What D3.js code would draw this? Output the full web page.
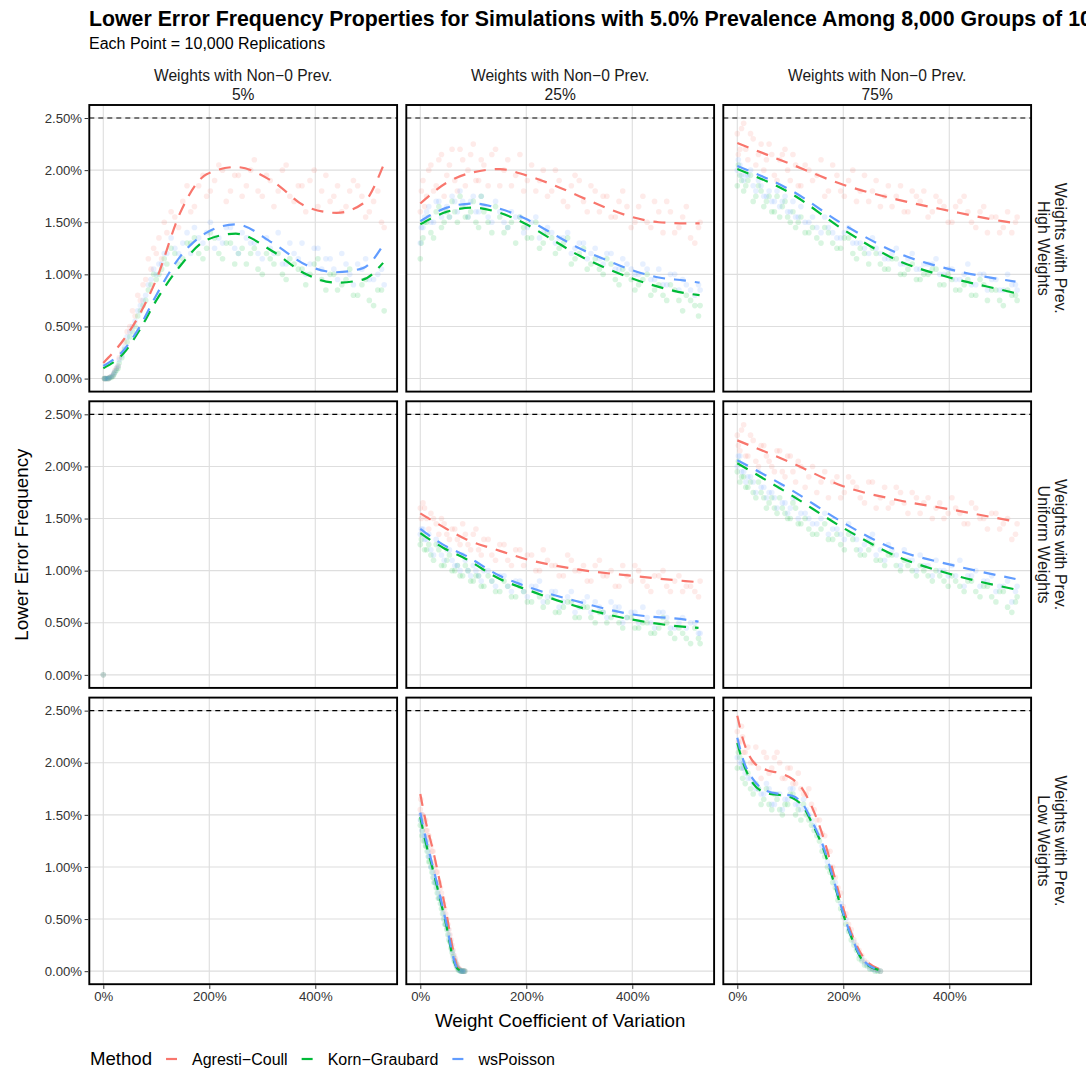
<!DOCTYPE html>
<html>
<head>
<meta charset="utf-8">
<script src="https://cdn.jsdelivr.net/npm/d3@7"></script>
<style>
body { margin: 0; background: #fff; }
text { font-family: "Liberation Sans", Arial, Helvetica, sans-serif; }
</style>
</head>
<body>
<svg id="chart" width="1086" height="1071"></svg>
<script>
// ---- labels ----
var METHODS = ["Agresti\u2212Coull", "Korn\u2212Graubard", "wsPoisson"];
var COLORS = ["#F8766D", "#00BA38", "#619CFF"];
var COL_LABELS = ["5%", "25%", "75%"];
var ROW_LABELS = ["High Weights", "Uniform Weights", "Low Weights"];
var Y_TICKS = [0, 0.5, 1, 1.5, 2, 2.5];       // percent
var X_TICKS = [0, 2, 4];                      // CV as fraction
var NOMINAL = 2.5;

// ---- points (x = weight CV, y = lower error freq in %) ----
var hi5_cv = [0.02,0.05,0.1,0.15,0.2,0.25,0.3,0.4,0.5,0.6,0.7,0.8,0.9,1.0,1.1,1.2,1.35,1.5,1.65,1.8,1.95,2.1,2.25,2.4,2.55,2.7,2.85,3.0,3.15,3.3,3.45,3.6,3.75,3.9,4.05,4.2,4.35,4.5,4.65,4.8,4.95,5.1,5.25];
var hi5_ac = [0,0,0,0.02,0.05,0.1,0.2,0.35,0.5,0.6,0.75,0.95,1.05,1.2,1.15,1.4,1.55,1.7,1.6,1.85,1.75,1.9,2.0,1.8,1.95,1.85,2.1,1.75,1.9,1.8,2.05,1.7,1.85,1.9,1.65,1.95,1.75,1.6,1.8,1.85,1.55,1.7,1.5];
var hi5_kg = [0,0,0,0.01,0.04,0.08,0.15,0.28,0.4,0.5,0.65,0.75,0.9,0.95,1.05,1.1,1.2,1.15,1.3,1.2,1.25,1.35,1.15,1.3,1.2,1.1,1.25,1.0,1.15,1.2,0.95,1.1,1.05,1.0,1.15,0.85,1.0,0.9,1.05,0.8,0.95,0.7,0.85];
var hi5_ws = [0,0,0,0.02,0.05,0.1,0.18,0.3,0.45,0.55,0.7,0.8,0.95,1.0,1.1,1.2,1.25,1.3,1.2,1.35,1.4,1.25,1.3,1.45,1.2,1.35,1.3,1.15,1.25,1.4,1.1,1.2,1.3,1.1,1.25,1.15,1.05,1.2,1.0,1.1,1.15,0.95,1.05];
var hi5_cv2 = [0.03,0.08,0.12,0.18,0.22,0.28,0.35,0.45,0.55,0.65,0.75,0.85,0.95,1.05,1.15,1.28,1.42,1.58,1.72,1.88,2.02,2.18,2.32,2.48,2.62,2.78,2.92,3.08,3.22,3.38,3.52,3.68,3.82,3.98,4.12,4.28,4.42,4.58,4.72,4.88,5.02,5.18,5.3];
var hi5_ac2 = [0,0,0.01,0.03,0.08,0.12,0.25,0.45,0.65,0.8,0.9,1.15,1.25,1.35,1.5,1.6,1.45,1.85,1.65,1.95,1.8,2.05,1.7,1.95,1.75,2.0,1.8,1.95,1.65,2.0,1.75,1.85,1.6,2.0,1.8,1.7,1.85,1.65,1.9,1.75,1.6,1.8,1.45];
var hi5_kg2 = [0,0,0.01,0.02,0.06,0.1,0.2,0.35,0.45,0.6,0.7,0.85,1.0,1.0,1.15,1.25,1.1,1.3,1.35,1.15,1.4,1.2,1.3,1.1,1.25,1.2,1.05,1.2,1.1,1.0,1.15,1.05,0.9,1.1,0.95,1.0,0.85,0.95,0.8,0.9,0.75,0.85,0.65];
var hi5_ws2 = [0,0,0.01,0.03,0.07,0.12,0.22,0.4,0.5,0.65,0.75,0.9,1.05,1.1,1.2,1.35,1.2,1.4,1.45,1.3,1.5,1.35,1.45,1.25,1.4,1.3,1.2,1.35,1.2,1.1,1.3,1.15,1.0,1.25,1.05,1.15,0.95,1.1,0.9,1.05,0.95,1.0,0.9];

var cv41 = [0.0,0.05,0.12,0.2,0.3,0.4,0.5,0.6,0.7,0.8,0.9,1.0,1.1,1.2,1.35,1.5,1.65,1.8,1.95,2.1,2.25,2.4,2.55,2.7,2.85,3.0,3.15,3.3,3.45,3.6,3.75,3.9,4.05,4.2,4.35,4.5,4.65,4.8,4.95,5.1,5.25];
var cv41b = [0.02,0.08,0.16,0.25,0.35,0.45,0.55,0.65,0.75,0.85,0.95,1.05,1.15,1.28,1.42,1.58,1.72,1.88,2.02,2.18,2.32,2.48,2.62,2.78,2.92,3.08,3.22,3.38,3.52,3.68,3.82,3.98,4.12,4.28,4.42,4.58,4.72,4.88,5.02,5.18,5.28];

var hi25_ac = [1.6,1.9,1.75,2.05,1.85,2.15,1.95,2.2,1.8,2.1,2.0,2.25,1.9,2.05,2.15,1.85,2.1,1.95,1.8,2.05,1.9,1.75,2.0,1.7,1.85,1.9,1.6,1.8,1.75,1.55,1.7,1.65,1.5,1.75,1.45,1.6,1.7,1.4,1.55,1.35,1.45];
var hi25_kg = [1.15,1.35,1.5,1.4,1.6,1.45,1.6,1.7,1.5,1.65,1.55,1.7,1.45,1.6,1.4,1.55,1.45,1.3,1.45,1.35,1.25,1.4,1.2,1.3,1.1,1.2,1.05,1.15,1.0,1.1,0.9,1.0,0.85,0.95,0.8,0.9,0.75,0.85,0.65,0.75,0.6];
var hi25_ws = [1.3,1.45,1.6,1.5,1.7,1.55,1.65,1.75,1.6,1.7,1.55,1.75,1.6,1.65,1.5,1.6,1.45,1.55,1.4,1.5,1.35,1.45,1.3,1.35,1.2,1.3,1.15,1.25,1.1,1.2,1.05,1.1,1.0,1.1,0.95,1.05,0.9,1.0,0.95,0.85,0.9];
var hi25_ac2 = [1.8,1.65,2.0,1.8,2.1,1.75,2.05,1.9,2.2,1.85,2.15,1.9,2.1,1.85,2.2,2.0,1.85,2.15,1.9,1.8,2.0,1.8,1.9,1.65,1.95,1.7,1.85,1.6,1.75,1.55,1.8,1.45,1.65,1.5,1.7,1.4,1.6,1.45,1.65,1.3,1.5];
var hi25_kg2 = [1.3,1.5,1.55,1.35,1.65,1.5,1.55,1.6,1.75,1.55,1.6,1.5,1.75,1.5,1.65,1.4,1.5,1.55,1.35,1.5,1.3,1.35,1.25,1.35,1.15,1.25,1.1,1.05,1.15,0.95,1.05,0.95,0.9,1.0,0.85,0.8,0.9,0.75,0.8,0.7,0.7];
var hi25_ws2 = [1.45,1.55,1.65,1.5,1.7,1.6,1.55,1.7,1.8,1.65,1.7,1.6,1.75,1.55,1.7,1.5,1.6,1.55,1.45,1.55,1.4,1.4,1.35,1.4,1.25,1.3,1.2,1.15,1.2,1.05,1.15,1.05,1.0,1.05,0.95,0.9,1.0,0.85,0.9,0.8,0.85];

var hi75_ac = [2.35,2.2,2.45,2.1,2.3,2.15,2.0,2.25,1.95,2.1,2.2,1.9,2.05,1.85,2.0,1.95,1.75,2.05,1.8,1.9,1.7,1.95,1.8,1.65,1.85,1.75,1.6,1.8,1.7,1.55,1.75,1.65,1.5,1.7,1.6,1.45,1.65,1.55,1.4,1.6,1.5];
var hi75_kg = [1.85,1.95,1.8,1.9,1.7,1.85,1.65,1.75,1.6,1.55,1.7,1.5,1.45,1.55,1.4,1.35,1.45,1.3,1.25,1.35,1.15,1.2,1.25,1.1,1.05,1.15,1.0,1.1,0.95,1.0,1.05,0.9,0.95,0.85,0.95,0.8,0.9,0.85,0.75,0.85,0.8];
var hi75_ws = [2.0,2.05,1.9,1.95,1.85,1.9,1.75,1.8,1.7,1.65,1.75,1.6,1.55,1.65,1.5,1.45,1.55,1.4,1.35,1.45,1.3,1.25,1.35,1.2,1.15,1.25,1.1,1.2,1.05,1.1,1.15,1.0,1.05,0.95,1.1,0.9,1.0,0.95,0.85,1.0,0.9];
var hi75_ac2 = [2.15,2.4,2.2,2.35,2.05,2.25,2.1,2.15,1.9,2.15,2.0,2.15,1.85,2.05,1.9,2.1,1.8,1.95,1.75,2.0,1.8,1.7,1.9,1.75,1.65,1.85,1.6,1.75,1.8,1.6,1.7,1.5,1.65,1.75,1.5,1.6,1.4,1.55,1.45,1.4,1.55];
var hi75_kg2 = [2.05,1.9,1.85,1.95,1.75,1.8,1.7,1.6,1.75,1.65,1.55,1.6,1.5,1.4,1.45,1.3,1.4,1.25,1.35,1.2,1.25,1.1,1.2,1.05,1.15,1.0,1.05,0.95,1.0,1.05,0.9,1.0,0.85,0.9,0.8,0.95,0.75,0.85,0.7,0.8,0.75];
var hi75_ws2 = [2.1,1.95,1.95,2.0,1.8,1.85,1.75,1.7,1.8,1.7,1.6,1.7,1.55,1.5,1.55,1.4,1.45,1.35,1.4,1.3,1.3,1.2,1.25,1.15,1.2,1.1,1.15,1.05,1.1,1.1,1.0,1.05,0.95,1.0,0.9,1.0,0.85,0.95,0.85,0.9,0.85];

var uni5_cv = [0];
var uni5_ac = [0], uni5_kg = [0], uni5_ws = [0];

var uni25_ac = [1.6,1.65,1.5,1.55,1.45,1.5,1.35,1.4,1.3,1.45,1.25,1.35,1.2,1.3,1.15,1.25,1.1,1.2,1.05,1.15,1.0,1.1,1.05,0.95,1.1,1.0,0.9,1.05,0.95,1.0,0.85,0.95,1.05,0.9,0.8,0.95,0.85,0.9,0.8,0.85,0.75];
var uni25_kg = [1.25,1.35,1.2,1.15,1.25,1.05,1.1,1.0,1.05,0.95,1.0,0.9,0.95,0.85,0.9,0.8,0.85,0.75,0.8,0.7,0.75,0.7,0.6,0.65,0.7,0.55,0.65,0.5,0.6,0.55,0.5,0.55,0.45,0.5,0.4,0.45,0.5,0.35,0.4,0.3,0.35];
var uni25_ws = [1.35,1.4,1.3,1.2,1.3,1.15,1.2,1.1,1.05,1.15,1.0,1.05,0.95,1.0,0.9,0.95,0.85,0.9,0.8,0.85,0.9,0.75,0.8,0.7,0.8,0.65,0.75,0.7,0.6,0.7,0.65,0.55,0.6,0.65,0.5,0.6,0.55,0.45,0.55,0.5,0.4];
var uni25_ac2 = [1.5,1.6,1.4,1.5,1.35,1.45,1.3,1.4,1.25,1.35,1.2,1.4,1.15,1.3,1.1,1.25,1.05,1.2,1.15,1.0,1.2,1.05,0.95,1.15,1.0,1.05,0.9,1.1,0.95,0.85,1.05,0.9,1.0,0.85,0.95,1.0,0.8,0.95,0.85,0.8,0.9];
var uni25_kg2 = [1.3,1.2,1.25,1.1,1.2,1.05,1.15,1.0,0.95,1.05,0.9,0.95,0.85,0.95,0.8,0.9,0.75,0.85,0.7,0.8,0.65,0.75,0.6,0.7,0.55,0.65,0.55,0.6,0.5,0.6,0.45,0.55,0.45,0.5,0.4,0.55,0.4,0.45,0.35,0.45,0.3];
var uni25_ws2 = [1.4,1.3,1.35,1.15,1.25,1.1,1.2,1.05,1.0,1.1,0.95,1.0,0.9,1.0,0.85,0.95,0.8,0.9,0.75,0.85,0.7,0.8,0.65,0.75,0.6,0.7,0.6,0.65,0.55,0.65,0.5,0.6,0.5,0.55,0.45,0.6,0.45,0.5,0.45,0.5,0.4];

var uni75_ac = [2.3,2.15,2.4,2.1,2.25,2.0,2.2,2.05,1.95,2.15,1.9,2.1,1.85,2.0,1.9,1.75,1.95,1.85,1.7,1.9,1.8,1.65,1.85,1.7,1.6,1.8,1.65,1.75,1.55,1.7,1.6,1.5,1.7,1.55,1.45,1.6,1.5,1.55,1.4,1.5,1.35];
var uni75_kg = [1.95,1.85,1.9,1.8,1.75,1.85,1.7,1.65,1.6,1.7,1.55,1.5,1.6,1.45,1.4,1.35,1.45,1.3,1.25,1.35,1.2,1.15,1.25,1.1,1.15,1.05,1.1,1.0,1.05,0.95,1.0,0.9,0.95,0.85,0.9,0.8,0.85,0.75,0.8,0.65,0.7];
var uni75_ws = [2.0,2.1,1.95,1.9,1.85,1.95,1.8,1.75,1.7,1.8,1.65,1.6,1.7,1.55,1.5,1.45,1.55,1.4,1.35,1.45,1.3,1.25,1.35,1.2,1.25,1.15,1.2,1.1,1.15,1.05,1.1,1.0,1.05,1.1,0.95,1.0,0.9,0.95,0.85,0.9,0.8];
var uni75_ac2 = [2.2,2.35,2.1,2.3,2.05,2.2,2.1,2.0,2.15,1.95,2.1,1.95,2.05,1.8,2.0,1.85,1.7,1.9,1.75,1.85,1.7,1.85,1.6,1.8,1.65,1.75,1.55,1.7,1.65,1.5,1.65,1.55,1.6,1.45,1.65,1.5,1.4,1.55,1.45,1.3,1.45];
var uni75_kg2 = [2.05,1.9,1.8,1.85,1.7,1.75,1.6,1.7,1.55,1.6,1.5,1.65,1.45,1.5,1.35,1.4,1.3,1.35,1.2,1.3,1.15,1.2,1.1,1.05,1.15,1.0,1.05,0.95,1.0,0.9,0.95,0.85,0.9,0.8,0.9,0.75,0.85,0.7,0.8,0.6,0.75];
var uni75_ws2 = [2.1,1.95,1.85,1.9,1.75,1.8,1.7,1.75,1.6,1.65,1.55,1.7,1.5,1.55,1.45,1.5,1.35,1.4,1.3,1.35,1.2,1.3,1.15,1.1,1.2,1.05,1.1,1.0,1.05,0.95,1.0,0.95,0.95,0.85,0.95,0.85,0.9,0.8,0.85,0.7,0.85];

var low25_cv = [0.0,0.03,0.06,0.1,0.13,0.16,0.2,0.24,0.28,0.32,0.36,0.4,0.44,0.48,0.52,0.56,0.6,0.64,0.68,0.72,0.76,0.8,0.84];
var low25_ac = [1.55,1.5,1.45,1.45,1.35,1.3,1.2,1.15,1.0,0.95,0.85,0.75,0.65,0.55,0.45,0.35,0.25,0.15,0.08,0.03,0.01,0,0];
var low25_kg = [1.4,1.3,1.25,1.2,1.15,1.05,1.0,0.9,0.85,0.75,0.7,0.6,0.5,0.45,0.35,0.28,0.18,0.1,0.05,0.01,0,0,0];
var low25_ws = [1.45,1.35,1.3,1.25,1.2,1.1,1.0,0.95,0.85,0.8,0.7,0.65,0.55,0.45,0.4,0.3,0.2,0.12,0.06,0.02,0,0,0];
var low25_cv2 = [0.01,0.04,0.08,0.11,0.15,0.18,0.22,0.26,0.3,0.34,0.38,0.42,0.46,0.5,0.54,0.58,0.62,0.66,0.7,0.74,0.78,0.82];
var low25_ac2 = [1.65,1.5,1.4,1.35,1.3,1.25,1.15,1.05,0.95,0.85,0.8,0.7,0.6,0.5,0.4,0.3,0.2,0.12,0.06,0.02,0,0];
var low25_kg2 = [1.45,1.35,1.25,1.2,1.1,1.05,0.95,0.85,0.8,0.7,0.65,0.55,0.45,0.4,0.3,0.22,0.14,0.08,0.03,0.01,0,0];
var low25_ws2 = [1.5,1.4,1.3,1.25,1.15,1.1,1.0,0.9,0.85,0.75,0.7,0.6,0.5,0.42,0.35,0.25,0.16,0.1,0.04,0.01,0,0];

var low75_cv = [0.0,0.05,0.1,0.15,0.2,0.3,0.4,0.5,0.6,0.7,0.8,0.9,1.0,1.1,1.2,1.3,1.4,1.5,1.6,1.7,1.8,1.9,2.0,2.1,2.2,2.3,2.4,2.5,2.6,2.7];
var low75_ac = [2.3,2.2,2.25,2.1,2.15,2.0,1.95,2.1,1.9,2.05,2.0,1.85,1.95,1.8,1.75,1.7,1.6,1.45,1.32,1.15,1.0,0.8,0.62,0.45,0.3,0.2,0.1,0.05,0.02,0];
var low75_kg = [1.95,2.05,1.85,1.8,1.9,1.7,1.75,1.65,1.6,1.7,1.55,1.6,1.7,1.5,1.45,1.5,1.4,1.3,1.15,1.0,0.85,0.68,0.52,0.38,0.25,0.12,0.06,0.02,0,0];
var low75_ws = [2.05,2.0,1.95,1.9,1.85,1.8,1.75,1.7,1.75,1.6,1.7,1.65,1.75,1.6,1.55,1.55,1.45,1.35,1.2,1.05,0.9,0.72,0.55,0.4,0.28,0.15,0.08,0.03,0.01,0];
var low75_cv2 = [0.02,0.08,0.12,0.25,0.35,0.45,0.55,0.65,0.75,0.85,0.95,1.05,1.15,1.25,1.35,1.45,1.55,1.65,1.75,1.85,1.95,2.05,2.15,2.25,2.35,2.45,2.55,2.65];
var low75_ac2 = [2.2,2.35,2.1,2.0,2.15,1.85,2.05,1.95,2.1,1.85,1.95,1.8,1.9,1.7,1.75,1.55,1.45,1.3,1.15,0.9,0.75,0.55,0.4,0.25,0.15,0.08,0.03,0.01];
var low75_kg2 = [2.1,1.95,2.0,1.75,1.8,1.6,1.75,1.55,1.65,1.5,1.6,1.7,1.55,1.6,1.45,1.35,1.25,1.1,0.95,0.8,0.6,0.45,0.3,0.2,0.1,0.05,0.02,0];
var low75_ws2 = [2.15,2.0,1.95,1.85,1.75,1.7,1.8,1.6,1.7,1.55,1.65,1.75,1.6,1.65,1.5,1.4,1.3,1.15,1.0,0.85,0.65,0.5,0.35,0.22,0.12,0.06,0.02,0.01];

// ---- smoothed fits ----
var hi5_knot = [0,0.38,0.69,1.0,1.45,1.95,2.5,3.2,3.83,4.4,4.9,5.28];
var hi5_acFit = [0.15,0.37,0.62,0.95,1.59,1.96,2.03,1.89,1.65,1.59,1.68,2.04];
var hi5_kgFit = [0.1,0.24,0.47,0.75,1.08,1.33,1.39,1.22,1.0,0.92,0.95,1.11];
var hi5_wsFit = [0.12,0.27,0.5,0.8,1.17,1.4,1.48,1.3,1.09,1.02,1.06,1.28];

var hi25_knot = [0,0.5,1.0,1.5,2.0,2.5,3.0,3.5,4.0,4.5,5.0,5.27];
var hi25_acFit = [1.68,1.88,1.98,2.01,1.95,1.86,1.75,1.64,1.55,1.5,1.49,1.49];
var hi25_kgFit = [1.48,1.60,1.64,1.59,1.48,1.33,1.18,1.06,0.96,0.88,0.82,0.80];
var hi25_wsFit = [1.51,1.64,1.68,1.63,1.53,1.39,1.25,1.14,1.04,0.97,0.94,0.92];

var hi75_knot = [0,1,2,3,4,5,5.25];
var hi75_acFit = [2.26,2.06,1.86,1.72,1.61,1.51,1.49];
var hi75_kgFit = [2.01,1.78,1.43,1.14,0.97,0.85,0.82];
var hi75_wsFit = [2.04,1.81,1.48,1.21,1.05,0.95,0.93];

var uni25_knot = [0,0.43,0.87,1.5,2.0,3.0,4.0,5.0,5.25];
var uni25_acFit = [1.55,1.42,1.30,1.19,1.11,1.01,0.95,0.90,0.89];
var uni25_kgFit = [1.36,1.22,1.11,0.92,0.82,0.65,0.53,0.46,0.45];
var uni25_wsFit = [1.40,1.25,1.14,0.95,0.85,0.70,0.58,0.53,0.51];

var uni75_knot = [0,1,2,3,4,5.25];
var uni75_acFit = [2.25,2.04,1.81,1.68,1.59,1.47];
var uni75_kgFit = [2.03,1.73,1.41,1.14,0.97,0.82];
var uni75_wsFit = [2.06,1.78,1.46,1.20,1.06,0.92];

var low25_knot = [0,0.11,0.24,0.36,0.49,0.62,0.71,0.84];
var low25_acFit = [1.70,1.42,1.16,0.88,0.56,0.20,0.03,0];
var low25_kgFit = [1.48,1.22,0.97,0.72,0.44,0.12,0.02,0];
var low25_wsFit = [1.52,1.26,1.0,0.75,0.46,0.14,0.02,0];

var low75_knot = [0,0.11,0.3,0.55,0.8,1.05,1.24,1.43,1.62,1.8,1.99,2.18,2.37,2.68];
var low75_acFit = [2.45,2.22,2.01,1.93,1.90,1.84,1.74,1.55,1.29,0.97,0.62,0.33,0.14,0.02];
var low75_kgFit = [2.19,2.00,1.80,1.71,1.69,1.66,1.58,1.40,1.18,0.89,0.56,0.29,0.10,0.01];
var low75_wsFit = [2.24,2.03,1.84,1.73,1.70,1.68,1.60,1.42,1.20,0.91,0.57,0.30,0.11,0.01];

var panels = [
  {row:0, col:0, cv:hi5_cv.concat(hi5_cv2), pts:[hi5_ac.concat(hi5_ac2), hi5_kg.concat(hi5_kg2), hi5_ws.concat(hi5_ws2)], knot:hi5_knot, fit:[hi5_acFit,hi5_kgFit,hi5_wsFit]},
  {row:0, col:1, cv:cv41.concat(cv41b), pts:[hi25_ac.concat(hi25_ac2), hi25_kg.concat(hi25_kg2), hi25_ws.concat(hi25_ws2)], knot:hi25_knot, fit:[hi25_acFit,hi25_kgFit,hi25_wsFit]},
  {row:0, col:2, cv:cv41.concat(cv41b), pts:[hi75_ac.concat(hi75_ac2), hi75_kg.concat(hi75_kg2), hi75_ws.concat(hi75_ws2)], knot:hi75_knot, fit:[hi75_acFit,hi75_kgFit,hi75_wsFit]},
  {row:1, col:0, cv:uni5_cv, pts:[uni5_ac,uni5_kg,uni5_ws], knot:null, fit:null},
  {row:1, col:1, cv:cv41.concat(cv41b), pts:[uni25_ac.concat(uni25_ac2), uni25_kg.concat(uni25_kg2), uni25_ws.concat(uni25_ws2)], knot:uni25_knot, fit:[uni25_acFit,uni25_kgFit,uni25_wsFit]},
  {row:1, col:2, cv:cv41.concat(cv41b), pts:[uni75_ac.concat(uni75_ac2), uni75_kg.concat(uni75_kg2), uni75_ws.concat(uni75_ws2)], knot:uni75_knot, fit:[uni75_acFit,uni75_kgFit,uni75_wsFit]},
  {row:2, col:0, cv:[], pts:[[],[],[]], knot:null, fit:null},
  {row:2, col:1, cv:low25_cv.concat(low25_cv2), pts:[low25_ac.concat(low25_ac2), low25_kg.concat(low25_kg2), low25_ws.concat(low25_ws2)], knot:low25_knot, fit:[low25_acFit,low25_kgFit,low25_wsFit]},
  {row:2, col:2, cv:low75_cv.concat(low75_cv2), pts:[low75_ac.concat(low75_ac2), low75_kg.concat(low75_kg2), low75_ws.concat(low75_ws2)], knot:low75_knot, fit:[low75_acFit,low75_kgFit,low75_wsFit]}
];

// ---- layout ----
var PW = 307.8, PH = 286.6;
var LEFTS = [89.3, 406.3, 723.3];
var TOPS = [105, 401.3, 697.6];

var svg = d3.select("#chart");

var x = d3.scaleLinear().domain([-0.264, 5.544]).range([0, PW]);
var y = d3.scaleLinear().domain([-0.125, 2.625]).range([PH, 0]);

// title runs past the right edge, as in the original
svg.append("text")
  .attr("x", 89).attr("y", 26)
  .attr("font-size", 21.3).attr("font-weight", "bold").attr("fill", "#000")
  .text("Lower Error Frequency Properties for Simulations with 5.0% Prevalence Among 8,000 Groups of 10");

svg.append("text")
  .attr("x", 89).attr("y", 49)
  .attr("font-size", 16).attr("fill", "#000")
  .text("Each Point = 10,000 Replications");

var line = d3.line()
  .x(function(d){ return x(d[0]); })
  .y(function(d){ return y(d[1]); })
  .curve(d3.curveMonotoneX);

panels.forEach(function(p){
  var g = svg.append("g").attr("transform", "translate(" + LEFTS[p.col] + "," + TOPS[p.row] + ")");

  // grid
  g.selectAll("line.gy").data(Y_TICKS).enter().append("line")
    .attr("x1", 0).attr("x2", PW)
    .attr("y1", function(d){ return y(d); }).attr("y2", function(d){ return y(d); })
    .attr("stroke", "#dedede").attr("stroke-width", 1.1);
  g.selectAll("line.gx").data(X_TICKS).enter().append("line")
    .attr("y1", 0).attr("y2", PH)
    .attr("x1", function(d){ return x(d); }).attr("x2", function(d){ return x(d); })
    .attr("stroke", "#dedede").attr("stroke-width", 1.1);

  // nominal level
  g.append("line")
    .attr("x1", 0).attr("x2", PW)
    .attr("y1", y(NOMINAL)).attr("y2", y(NOMINAL))
    .attr("stroke", "#000").attr("stroke-width", 1.1).attr("stroke-dasharray", "5,4");

  // points
  p.pts.forEach(function(ys, m){
    g.append("g").selectAll("circle").data(p.cv).enter().append("circle")
      .attr("cx", function(d){ return x(d); })
      .attr("cy", function(d, i){ return y(ys[i]); })
      .attr("r", 2.8)
      .attr("fill", COLORS[m]).attr("fill-opacity", 0.15);
  });

  // fitted curves
  if (p.fit) {
    p.fit.forEach(function(ys, m){
      var pts = p.knot.map(function(k, i){ return [k, ys[i]]; });
      g.append("path").datum(pts)
        .attr("d", line)
        .attr("fill", "none")
        .attr("stroke", COLORS[m]).attr("stroke-width", 2.2)
        .attr("stroke-dasharray", "12,9");
    });
  }

  // border
  g.append("rect").attr("width", PW).attr("height", PH)
    .attr("fill", "none").attr("stroke", "#000").attr("stroke-width", 1.9);

  // axes
  if (p.col == 0) {
    var ya = g.append("g").call(d3.axisLeft(y).tickValues(Y_TICKS)
      .tickFormat(function(d){ return d3.format(".2f")(d) + "%"; })
      .tickSize(3.7).tickPadding(3.5));
    ya.select(".domain").remove();
    ya.selectAll("line").attr("stroke", "#333").attr("transform", "translate(-1,0)");
    ya.selectAll("text").attr("font-size", 13.2).attr("fill", "#333")
      .attr("font-family", "Liberation Sans, Arial, sans-serif");
  }
  if (p.row == 2) {
    var xa = g.append("g").attr("transform", "translate(0," + PH + ")")
      .call(d3.axisBottom(x).tickValues(X_TICKS)
        .tickFormat(function(d){ return (d * 100) + "%"; })
        .tickSize(3.7).tickPadding(3.5));
    xa.select(".domain").remove();
    xa.selectAll("line").attr("stroke", "#333").attr("transform", "translate(0,1)");
    xa.selectAll("text").attr("font-size", 13.2).attr("fill", "#333")
      .attr("font-family", "Liberation Sans, Arial, sans-serif");
  }
});

// column strips
COL_LABELS.forEach(function(lab, c){
  var cx = LEFTS[c] + PW / 2;
  svg.append("text").attr("x", cx).attr("y", 81).attr("text-anchor", "middle")
    .attr("font-size", 15.6).attr("fill", "#1a1a1a").text("Weights with Non\u22120 Prev.");
  svg.append("text").attr("x", cx).attr("y", 99.5).attr("text-anchor", "middle")
    .attr("font-size", 15.6).attr("fill", "#1a1a1a").text(lab);
});

// row strips (rotated)
ROW_LABELS.forEach(function(lab, r){
  var cy = TOPS[r] + PH / 2;
  var rg = svg.append("g").attr("transform", "translate(1055," + cy + ") rotate(90)");
  rg.append("text").attr("x", 0).attr("y", 0).attr("text-anchor", "middle")
    .attr("font-size", 16).attr("fill", "#1a1a1a").text("Weights with Prev.");
  rg.append("text").attr("x", 0).attr("y", 17).attr("text-anchor", "middle")
    .attr("font-size", 16).attr("fill", "#1a1a1a").text(lab);
});

// axis titles
svg.append("text")
  .attr("x", LEFTS[1] + PW / 2).attr("y", 1027).attr("text-anchor", "middle")
  .attr("font-size", 18.8).attr("fill", "#000")
  .text("Weight Coefficient of Variation");

svg.append("text")
  .attr("transform", "translate(28," + ((TOPS[0] + TOPS[2] + PH) / 2) + ") rotate(-90)")
  .attr("text-anchor", "middle")
  .attr("font-size", 18.8).attr("fill", "#000")
  .text("Lower Error Frequency");

// legend
var lg = svg.append("g").attr("transform", "translate(90,1065)");
var ltitle = lg.append("text").attr("x", 0).attr("y", 0)
  .attr("font-size", 18.6).attr("fill", "#000").text("Method");
var cursor = ltitle.node().getComputedTextLength() + 14;
METHODS.forEach(function(name, m){
  lg.append("line")
    .attr("x1", cursor).attr("x2", cursor + 11)
    .attr("y1", -6).attr("y2", -6)
    .attr("stroke", COLORS[m]).attr("stroke-width", 2.2);
  var t = lg.append("text").attr("x", cursor + 26).attr("y", 0)
    .attr("font-size", 16).attr("fill", "#000").text(name);
  cursor = cursor + 26 + t.node().getComputedTextLength() + 14;
});
</script>
</body>
</html>
